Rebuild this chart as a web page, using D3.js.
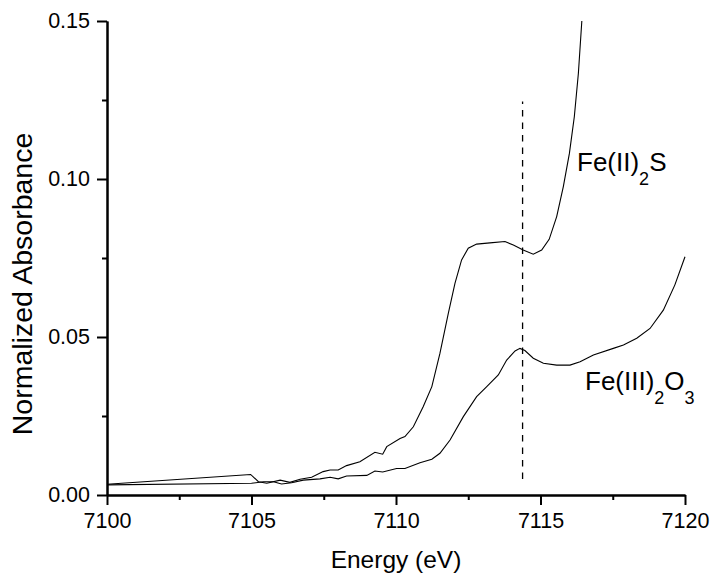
<!DOCTYPE html>
<html>
<head>
<meta charset="utf-8">
<script src="https://cdn.jsdelivr.net/npm/d3@7"></script>
<style>
  html, body { margin: 0; padding: 0; background: #fff; }
  svg { display: block; font-family: "Liberation Sans", Arial, sans-serif; }
</style>
</head>
<body>
<svg id="chart" width="712" height="576"></svg>
<script>
// ---- data ----
const feIIS_energy = [7100, 7104.97, 7105.24, 7105.53, 7105.99, 7106.33, 7106.68, 7107.08, 7107.48, 7107.72, 7108.00, 7108.29, 7108.75, 7109.27, 7109.54, 7109.68, 7110.14, 7110.31, 7110.60, 7110.94, 7111.24, 7111.52, 7111.81, 7112.04, 7112.27, 7112.50, 7112.79, 7113.25, 7113.77, 7114.06, 7114.40, 7114.75, 7115.04, 7115.30, 7115.56, 7115.79, 7116.00, 7116.17, 7116.31, 7116.43];
const feIIS_abs = [0.0034, 0.0065, 0.0042, 0.0037, 0.0047, 0.0040, 0.0050, 0.0056, 0.0074, 0.0079, 0.0079, 0.0093, 0.0105, 0.0135, 0.0129, 0.0153, 0.0179, 0.0185, 0.0216, 0.0279, 0.0343, 0.0448, 0.0575, 0.0670, 0.0744, 0.0781, 0.0794, 0.0798, 0.0802, 0.0791, 0.0775, 0.0762, 0.0775, 0.0809, 0.0881, 0.0976, 0.1081, 0.1197, 0.1334, 0.150];

const feIIIO_energy = [7100, 7105.0, 7105.41, 7105.76, 7106.04, 7106.39, 7106.79, 7107.37, 7107.72, 7108.00, 7108.29, 7108.99, 7109.27, 7109.54, 7110.02, 7110.31, 7110.83, 7111.24, 7111.52, 7111.87, 7112.33, 7112.79, 7113.14, 7113.54, 7113.83, 7114.12, 7114.29, 7114.46, 7114.75, 7115.10, 7115.56, 7116.02, 7116.37, 7116.83, 7117.52, 7117.87, 7118.33, 7118.79, 7119.25, 7119.65, 7120.00];
const feIIIO_abs = [0.0032, 0.0037, 0.0042, 0.0042, 0.0035, 0.0039, 0.0047, 0.0051, 0.0056, 0.0051, 0.0060, 0.0062, 0.0076, 0.0073, 0.0084, 0.0084, 0.0102, 0.0113, 0.0132, 0.0174, 0.0248, 0.0311, 0.0343, 0.0380, 0.0427, 0.0456, 0.0464, 0.0457, 0.0433, 0.0417, 0.0411, 0.0411, 0.0422, 0.0443, 0.0464, 0.0475, 0.0496, 0.0527, 0.0585, 0.0665, 0.0754];

const markerEnergy = [7114.38];
const markerRange = [0.0043, 0.1245];

const xTicks = [7100, 7105, 7110, 7115, 7120];
const xMinorTicks = [7102.5, 7107.5, 7112.5, 7117.5];
const yTicks = [0.00, 0.05, 0.10, 0.15];
const yMinorTicks = [0.025, 0.075, 0.125];

const xTitle = "Energy (eV)";
const yTitle = "Normalized Absorbance";

// ---- chart ----
const svg = d3.select("#chart");
const x = d3.scaleLinear().domain([7100, 7120]).range([107, 685]);
const y = d3.scaleLinear().domain([0, 0.15]).range([495, 21]);

const line = d3.line().x(d => x(d[0])).y(d => y(d[1]));

// curves
const s1 = feIIS_energy.map((e, i) => [e, feIIS_abs[i]]);
const s2 = feIIIO_energy.map((e, i) => [e, feIIIO_abs[i]]);
svg.append("path").attr("d", line(s1)).attr("fill", "none").attr("stroke", "#000").attr("stroke-width", 1.1);
svg.append("path").attr("d", line(s2)).attr("fill", "none").attr("stroke", "#000").attr("stroke-width", 1.1);

// dashed marker
svg.append("line")
  .attr("x1", x(markerEnergy[0])).attr("x2", x(markerEnergy[0]))
  .attr("y1", y(markerRange[1])).attr("y2", y(markerRange[0]))
  .attr("stroke", "#000").attr("stroke-width", 1.3)
  .attr("stroke-dasharray", "6.5,6").attr("stroke-dashoffset", 4);

// axes
const xAxis = d3.axisBottom(x).tickValues(xTicks).tickFormat(d3.format("d")).tickSizeInner(10).tickSizeOuter(0).tickPadding(8);
const xMinor = d3.axisBottom(x).tickValues(xMinorTicks).tickFormat("").tickSizeInner(5).tickSizeOuter(0);
const yAxis = d3.axisLeft(y).tickValues(yTicks).tickFormat(d3.format(".2f")).tickSizeInner(10).tickSizeOuter(0).tickPadding(7);
const yMinor = d3.axisLeft(y).tickValues(yMinorTicks).tickFormat("").tickSizeInner(5).tickSizeOuter(0);

function style(g) {
  g.selectAll("path.domain").attr("stroke", "#000").attr("stroke-width", 2);
  g.selectAll(".tick line").attr("stroke", "#000").attr("stroke-width", 2);
  g.selectAll(".tick text").attr("fill", "#000").attr("font-size", "21.5px")
    .attr("font-family", "'Liberation Sans', Arial, sans-serif");
}

svg.append("g").attr("transform", "translate(0,495)").call(xMinor).call(style);
svg.append("g").attr("transform", "translate(0,495)").call(xAxis).call(style);
svg.append("g").attr("transform", "translate(107,0)").call(yMinor).call(style);
svg.append("g").attr("transform", "translate(107,0)").call(yAxis).call(style);

// titles
svg.append("text").attr("x", 396).attr("y", 568).attr("text-anchor", "middle")
  .attr("font-size", "24.5px").attr("fill", "#000").text(xTitle);
svg.append("text").attr("transform", "translate(32,284) rotate(-90)").attr("text-anchor", "middle")
  .attr("font-size", "28.5px").attr("fill", "#000").text(yTitle);

// labels
function chem(xp, yp, parts) {
  const t = svg.append("text").attr("x", xp).attr("y", yp).attr("font-size", "26px").attr("fill", "#000");
  let shifted = false;
  parts.forEach(p => {
    const ts = t.append("tspan").text(p.t);
    if (p.sub) { ts.attr("font-size", "18px").attr("dy", shifted ? 0 : 14); shifted = true; }
    else { if (shifted) { ts.attr("dy", -14); shifted = false; } }
  });
}
chem(577, 171, [{t: "Fe(II)"}, {t: "2", sub: true}, {t: "S"}]);
chem(585, 390, [{t: "Fe(III)"}, {t: "2", sub: true}, {t: "O"}, {t: "3", sub: true}]);
</script>
</body>
</html>
